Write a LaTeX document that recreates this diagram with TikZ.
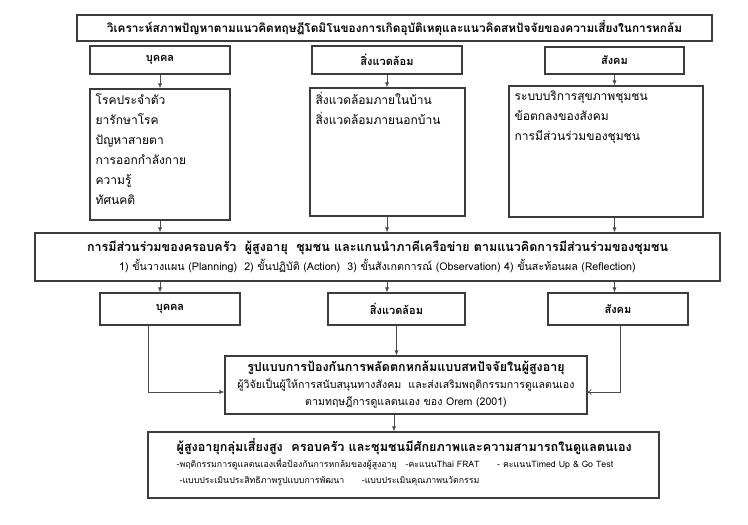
\documentclass[tikz,border=0pt]{standalone}
\usepackage{fontspec}
\setmainfont[Script=Thai]{Loma}
\usetikzlibrary{arrows.meta}
\definecolor{boxline}{HTML}{3C3C3C}
\definecolor{wire}{HTML}{4A4A4A}
\tikzstyle{box}=[draw=boxline, line width=1.1pt, inner sep=0pt]
\tikzstyle{hbox}=[box, minimum height=28pt, font=\fontsize{11}{13}\selectfont\bfseries]
\tikzstyle{cbox}=[box]
\tikzstyle{listtext}=[inner sep=0pt, align=left, anchor=north west, font=\fontsize{12}{20}\selectfont]
\tikzstyle{arr}=[draw=wire, line width=0.7pt, -{Latex[length=5pt,width=4pt]}]
\tikzstyle{oarr}=[draw=wire, line width=0.7pt, -{To[length=4pt,width=6pt]}]

\begin{document}
\begin{tikzpicture}[x=1pt, y=-1pt]
        \useasboundingbox (0,0) rectangle (748,525);
        % analysis row
        \node[box, minimum width=635pt, minimum height=26pt, font=\fontsize{11.8}{13}\selectfont\bfseries] (title) at (394.5,28) {วิเคราะห์สภาพปัญหาตามแนวคิดทฤษฎีโดมิโนของการเกิดอุบัติเหตุและแนวคิดสหปัจจัยของความเสี่ยงในการหกล้ม};
        \node[hbox, minimum width=140pt] (pA) at (160,60) {บุคคล};
        \node[hbox, minimum width=150pt] (pB) at (387,60) {สิ่งแวดล้อม};
        \node[hbox, minimum width=139pt, minimum height=27pt] (pC) at (614.5,60.5) {สังคม};
        \node[cbox, minimum width=140pt, minimum height=131pt] (cA) at (160,154.5) {};
        \node[cbox, minimum width=155pt, minimum height=128pt] (cB) at (387.5,152) {};
        \node[cbox, minimum width=194pt, minimum height=131pt] (cC) at (606,151.5) {};
        \node[listtext] (cAtext) at ([shift={(6pt,-5pt)}]cA.north west) {โรคประจำตัว\\ยารักษาโรค\\ปัญหาสายตา\\การออกกำลังกาย\\ความรู้\\ทัศนคติ};
        \node[listtext] (cBtext) at ([shift={(6pt,-5pt)}]cB.north west) {สิ่งแวดล้อมภายในบ้าน\\สิ่งแวดล้อมภายนอกบ้าน};
        \node[listtext] (cCtext) at ([shift={(6pt,-5pt)}]cC.north west) {ระบบบริการสุขภาพชุมชน\\ข้อตกลงของสังคม\\การมีส่วนร่วมของชุมชน};
        \draw[arr] (pA) -- (pA |- cA.north);
        \draw[arr] (pB) -- (pB |- cB.north);
        \draw[arr] (pC) -- (pC |- cC.north);
        % participation
        \node[box, minimum width=685pt, minimum height=48pt, align=center, font=\fontsize{10.7}{19}\selectfont] (part) at (377.5,257) {{\fontsize{12.5}{19}\selectfont\bfseries การมีส่วนร่วมของครอบครัว\ \ ผู้สูงอายุ\ \ ชุมชน และแกนนำภาคีเครือข่าย ตามแนวคิดการมีส่วนร่วมของชุมชน}\\1) ขั้นวางแผน (Planning)\ \ 2) ขั้นปฏิบัติ (Action)\ \ 3) ขั้นสังเกตการณ์ (Observation) 4) ขั้นสะท้อนผล (Reflection)};
        \draw[arr] (pA |- cA.south) -- (pA |- part.north);
        \draw[arr] (pB |- cB.south) -- (pB |- part.north);
        \draw[arr] (pC |- cC.south) -- (pC |- part.north);
        \node[hbox, minimum width=140pt, minimum height=32pt] (lA) at (170,309) {บุคคล};
        \node[hbox, minimum width=137pt, minimum height=32pt] (lB) at (396.5,309) {สิ่งแวดล้อม};
        \node[hbox, minimum width=140pt, minimum height=32pt] (lC) at (618,309) {สังคม};
        \draw[arr] (pA |- part.south) -- (pA |- lA.north);
        \draw[arr] (pB |- part.south) -- (pB |- lB.north);
        \draw[arr] (pC |- part.south) -- (pC |- lC.north);
        % model
        \node[box, minimum width=362pt, minimum height=58pt, align=center, font=\fontsize{10.6}{17}\selectfont] (model) at (406,385) {{\fontsize{12.5}{17}\selectfont\bfseries รูปแบบการป้องกันการพลัดตกหกล้มแบบสหปัจจัยในผู้สูงอายุ}\\ผู้วิจัยเป็นผู้ให้การสนับสนุนทางสังคม\ \ และส่งเสริมพฤติกรรมการดูแลตนเอง\\ตามทฤษฎีการดูแลตนเอง ของ Orem (2001)};
        \draw[arr] (lB) -- (lB |- model.north);
        \draw[arr] ([xshift=-22pt]lA.south) |- ([yshift=-7pt]model.west);
        \draw[oarr] ([xshift=2pt]lC.south) |- ([yshift=-7pt]model.east);
        % outcome
        \node[box, minimum width=511pt, minimum height=66pt] (final) at (403.5,465) {};
        \node[listtext, font=\fontsize{8.8}{16}\selectfont] (finaltext) at ([shift={(29pt,-7pt)}]final.north west) {{\fontsize{12.6}{16}\selectfont\bfseries ผู้สูงอายุกลุ่มเสี่ยงสูง\ \ ครอบครัว และชุมชนมีศักยภาพและความสามารถในดูแลตนเอง}\\-พฤติกรรมการดูแลตนเองเพื่อป้องกันการหกล้มของผู้สูงอายุ\quad-คะแนนThai FRAT\qquad- คะแนนTimed Up \& Go Test\\\ -แบบประเมินประสิทธิภาพรูปแบบการพัฒนา\qquad-แบบประเมินคุณภาพนวัตกรรม};
        \draw[arr] ([xshift=-12pt]model.south) -- ([xshift=-12pt]model.south |- final.north);
    \end{tikzpicture}
\end{document}
